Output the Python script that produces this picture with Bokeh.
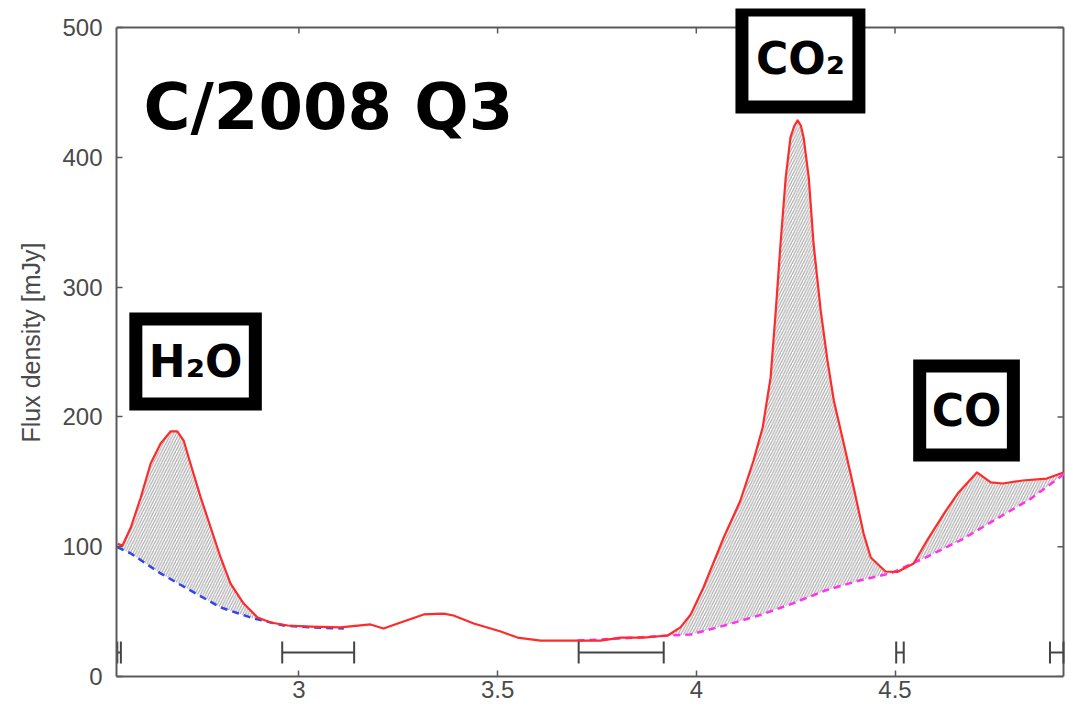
from bokeh.plotting import figure
from bokeh.models import LinearAxis, Range1d, Label, FixedTicker, ColumnDataSource
from bokeh.embed import file_html
from bokeh.resources import INLINE

# ---------------- data ----------------
wave = [2.544, 2.556, 2.577, 2.602, 2.627, 2.652, 2.677, 2.694, 2.710, 2.727,
        2.753, 2.778, 2.803, 2.828, 2.861, 2.896, 2.929, 2.972, 3.029, 3.105,
        3.180, 3.213, 3.256, 3.314, 3.364, 3.389, 3.440, 3.508, 3.550, 3.608,
        3.676, 3.759, 3.810, 3.867, 3.928, 3.960, 3.986, 4.018, 4.069, 4.111,
        4.144, 4.167, 4.187, 4.200, 4.212, 4.225, 4.237, 4.247, 4.255, 4.263,
        4.270, 4.283, 4.295, 4.313, 4.330, 4.346, 4.371, 4.396, 4.421, 4.439,
        4.476, 4.506, 4.547, 4.582, 4.625, 4.660, 4.706, 4.741, 4.771, 4.821,
        4.882, 4.924]
flux = [102.2, 100.9, 114.8, 137.9, 164.1, 179.5, 188.8, 188.8, 181.8, 164.1,
        137.9, 114.8, 91.7, 71.6, 56.2, 45.5, 41.6, 39.3, 38.5, 37.8,
        40.1, 37.0, 41.6, 47.8, 48.5, 47.0, 40.8, 34.7, 30.0, 27.7,
        27.7, 27.7, 30.0, 30.0, 31.6, 37.8, 47.8, 68.6, 107.1, 135.6,
        166.4, 191.8, 230.4, 282.0, 333.6, 384.4, 415.3, 424.5, 428.4, 424.5,
        415.3, 384.4, 333.6, 282.0, 243.5, 212.6, 179.5, 145.6, 110.2, 91.7,
        80.9, 80.5, 87.1, 105.5, 126.3, 141.8, 157.2, 149.5, 148.7, 151.0,
        152.5, 157.2]

# continuum under H2O band (blue dashed)
cont1_wave = [2.543, 2.577, 2.652, 2.727, 2.803, 2.886, 2.962, 3.029, 3.113]
cont1_flux = [99.6, 94.8, 79.4, 66.3, 53.2, 44.7, 39.3, 37.8, 37.0]

# continuum under CO2 / CO bands (magenta dashed)
cont2_wave = [3.701, 3.810, 3.928, 3.986, 4.071, 4.157, 4.242, 4.325, 4.411,
              4.489, 4.582, 4.668, 4.753, 4.839, 4.924]
cont2_flux = [27.7, 29.3, 31.6, 32.4, 39.3, 47.0, 56.2, 66.3, 74.0,
              79.5, 92.4, 105.5, 121.0, 136.4, 155.6]

# continuum windows (horizontal bars near the bottom)
win_start = [2.543, 2.958, 3.704, 4.503, 4.890]
win_end = [2.552, 3.139, 3.918, 4.522, 4.924]

x_ticks = [3, 3.5, 4, 4.5]
y_ticks = [0, 100, 200, 300, 400, 500]

title_text = "C/2008 Q3"
band_names = ["H\u2082O", "CO\u2082", "CO"]

# ---------------- layout constants ----------------
X_LO, X_HI = 2.541, 4.924      # plotted box in data units
Y_LO, Y_HI = 0, 500
PX_PER_X = 397.4               # screen px per micron
PX_PER_Y = 1.298               # screen px per mJy
HEADROOM = 19                  # px of frame above the box (for the CO2 tag)
RIGHTROOM = 2

# ---------------- figure ----------------
p = figure(width=1068, height=708, output_backend="svg", toolbar_location=None,
           x_range=Range1d(X_LO, X_HI + RIGHTROOM / PX_PER_X),
           y_range=Range1d(Y_LO, Y_HI + HEADROOM / PX_PER_Y),
           min_border_left=116, min_border_right=3, min_border_top=8,
           min_border_bottom=32, x_axis_location=None, y_axis_location=None)
p.outline_line_color = None
p.xgrid.visible = False
p.ygrid.visible = False
p.background_fill_color = "white"
p.border_fill_color = "white"

AX_COL = "#5a5a5a"
LBL_COL = "#4a4a4a"
TICK_FONT = "Liberation Sans"
TICK_LEN = 6


def style_axis(ax):
    ax.axis_line_color = AX_COL
    ax.axis_line_width = 2
    ax.major_tick_line_color = AX_COL
    ax.major_tick_line_width = 1.5
    ax.major_tick_in = TICK_LEN
    ax.major_tick_out = 0
    ax.minor_tick_line_color = None
    ax.major_label_text_font = TICK_FONT
    ax.major_label_text_color = LBL_COL
    ax.major_label_text_font_size = "24px"


xb = LinearAxis(ticker=FixedTicker(ticks=x_ticks), bounds=(X_LO, X_HI))
style_axis(xb)
xb.major_label_standoff = 4
xb.major_label_overrides = {3: "3", 3.5: "3.5", 4: "4", 4.5: "4.5"}
p.add_layout(xb, "below")

yl = LinearAxis(ticker=FixedTicker(ticks=y_ticks), bounds=(Y_LO, Y_HI),
                axis_label="Flux density [mJy]")
style_axis(yl)
yl.major_label_standoff = 14
yl.axis_label_text_font = TICK_FONT
yl.axis_label_text_font_style = "normal"
yl.axis_label_text_font_size = "25px"
yl.axis_label_text_color = LBL_COL
yl.axis_label_standoff = 14
p.add_layout(yl, "left")

# top and right edges of the box, with inward ticks (mirror of the axes)
p.segment(x0=[X_LO, X_HI], y0=[Y_HI, Y_LO], x1=[X_HI, X_HI], y1=[Y_HI, Y_HI],
          line_color=AX_COL, line_width=2)
p.segment(x0=x_ticks, y0=[Y_HI] * len(x_ticks), x1=x_ticks,
          y1=[Y_HI - TICK_LEN / PX_PER_Y] * len(x_ticks),
          line_color=AX_COL, line_width=1.5)
p.segment(x0=[X_HI] * len(y_ticks), y0=y_ticks,
          x1=[X_HI - TICK_LEN / PX_PER_X] * len(y_ticks), y1=y_ticks,
          line_color=AX_COL, line_width=1.5)

# ---------------- hatched band areas ----------------
def band_patch(lo, hi, cw, cf):
    px = [w for w in wave if lo <= w <= hi]
    py = [f for w, f in zip(wave, flux) if lo <= w <= hi]
    bx = [w for w in cw if lo <= w <= hi]
    by = [f for w, f in zip(cw, cf) if lo <= w <= hi]
    return px + bx[::-1], py + by[::-1]

h_x, h_y = band_patch(cont1_wave[0], 2.896, cont1_wave, cont1_flux)
c_x, c_y = band_patch(3.928, cont2_wave[-1], cont2_wave, cont2_flux)

for bx_, by_ in [(h_x, h_y), (c_x, c_y)]:
    p.patch(bx_, by_, fill_color="white", fill_alpha=1.0, line_color=None,
            hatch_pattern="/", hatch_color="#ababab", hatch_weight=1.2,
            hatch_scale=5.5)

# continua
p.line(cont1_wave, cont1_flux, line_color="#3344ee", line_width=2.5,
       line_dash="7 5")
p.line(cont2_wave, cont2_flux, line_color="#ff33ee", line_width=2.5,
       line_dash="7 5")

# spectrum
p.line(wave, flux, line_color="#ff2a2a", line_width=2.2, line_join="round")

# continuum windows
BAR_Y = 18.5
CAP = 8.5
bars = ColumnDataSource(dict(x0=win_start, x1=win_end))
p.segment(x0="x0", y0=BAR_Y, x1="x1", y1=BAR_Y, source=bars,
          line_color="#444444", line_width=2)
p.segment(x0="x0", y0=BAR_Y - CAP, x1="x0", y1=BAR_Y + CAP, source=bars,
          line_color="#444444", line_width=2)
p.segment(x0="x1", y0=BAR_Y - CAP, x1="x1", y1=BAR_Y + CAP, source=bars,
          line_color="#444444", line_width=2)

# ---------------- annotations ----------------
ANN_FONT = "DejaVu Sans"
p.add_layout(Label(x=2.609, y=439, text=title_text, text_font=ANN_FONT,
                   text_font_style="bold", text_font_size="64px",
                   text_color="black", text_align="left",
                   text_baseline="alphabetic"))

box_pos = [(2.740, 242.7, 44, dict(left=13, right=13, top=17, bottom=17)),
           (4.262, 476.1, 44, dict(left=14, right=14, top=23, bottom=23)),
           (4.680, 204.9, 44, dict(left=12, right=12, top=19, bottom=19))]
for name, (bx, by, fs, pad) in zip(band_names, box_pos):
    p.add_layout(Label(x=bx, y=by, text=name, text_font=ANN_FONT,
                       text_font_style="bold", text_font_size=f"{fs}px",
                       text_color="black", text_align="center",
                       text_baseline="middle", border_line_color="black",
                       border_line_width=13, border_line_join="miter",
                       background_fill_color="white", padding=pad))

open("out.html", "w").write(file_html(p, INLINE))
